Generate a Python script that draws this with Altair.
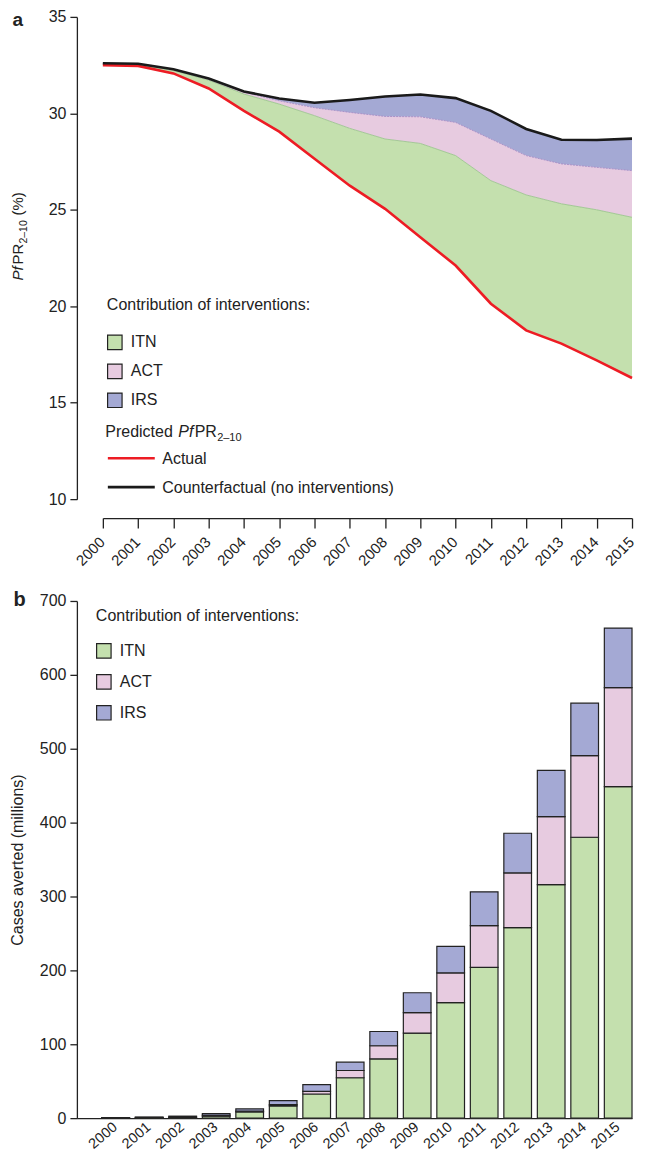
import altair as alt
import pandas as pd

years = list(range(2000, 2016))

# Panel a: predicted PfPR2-10 (%)
actual = [32.50, 32.46, 32.07, 31.29, 30.13, 29.05, 27.65, 26.25, 25.05, 23.58,
          22.11, 20.13, 18.75, 18.06, 17.19, 16.28]
itn_top = [32.55, 32.52, 32.22, 31.72, 31.00, 30.48, 29.88, 29.22, 28.67, 28.44,
           27.81, 26.51, 25.77, 25.31, 25.00, 24.61]
act_top = [32.58, 32.55, 32.27, 31.78, 31.10, 30.65, 30.29, 30.05, 29.84, 29.82,
           29.53, 28.67, 27.81, 27.38, 27.20, 27.03]
counterfactual = [32.60, 32.57, 32.29, 31.81, 31.13, 30.77, 30.55, 30.69, 30.87, 30.98,
                  30.79, 30.13, 29.19, 28.63, 28.62, 28.69]

# Panel b: cases averted (millions)
itn_cases = [0.4, 0.7, 1.0, 2.8, 8.5, 16.5, 32.7, 54.7, 80.2, 115.1,
             156.3, 204.2, 258.0, 316.2, 380.2, 448.7]
act_cases = [0.2, 0.3, 0.7, 1.3, 0.9, 1.9, 3.6, 9.8, 17.8, 27.7,
             40.3, 56.4, 73.9, 91.8, 110.6, 134.0]
irs_cases = [0.2, 0.5, 1.0, 2.2, 3.1, 5.4, 9.0, 11.2, 19.3, 26.9,
             35.8, 45.7, 53.7, 62.7, 70.8, 80.6]

interventions = ["ITN", "ACT", "IRS"]
fill_colors = ["#c4e0ae", "#e7cbe0", "#a4a9d4"]
series_names = ["Actual", "Counterfactual (no interventions)"]
series_colors = ["#ed1c24", "#1a1a1a"]

TXT = "#222222"

# ---------- tables ----------
band_rows = []
for i, yr in enumerate(years):
    band_rows.append({"year": yr, "band": "ITN", "lower": actual[i], "upper": itn_top[i]})
    band_rows.append({"year": yr, "band": "ACT", "lower": itn_top[i], "upper": act_top[i]})
    band_rows.append({"year": yr, "band": "IRS", "lower": act_top[i], "upper": counterfactual[i]})
df_bands = pd.DataFrame(band_rows)

line_rows = []
for i, yr in enumerate(years):
    line_rows.append({"year": yr, "series": series_names[0], "value": actual[i]})
    line_rows.append({"year": yr, "series": series_names[1], "value": counterfactual[i]})
df_lines = pd.DataFrame(line_rows)

bar_rows = []
for i, yr in enumerate(years):
    for k, (name, vals) in enumerate(zip(interventions, [itn_cases, act_cases, irs_cases])):
        bar_rows.append({"year": str(yr), "intervention": name, "value": vals[i], "order": k})
df_bars = pd.DataFrame(bar_rows)

one = pd.DataFrame({"k": [0]})


def txt(s, x, y, size=16, **kw):
    params = dict(text=s, fontSize=size, align="left", baseline="alphabetic", color=TXT)
    params.update(kw)
    return alt.Chart(one).mark_text(**params).encode(x=alt.value(x), y=alt.value(y))


def key_line(color, x1, x2, y):
    return alt.Chart(one).mark_rule(color=color, strokeWidth=2.6).encode(
        x=alt.value(x1), x2=alt.value(x2), y=alt.value(y))


# ---------- panel a ----------
xa_scale = alt.Scale(domain=[2000, 2015], range=[26, 556], nice=False, zero=False)
xa_axis = alt.Axis(values=years, format="d", labelAngle=-45, labelAlign="right",
                   labelBaseline="middle", labelPadding=11, labelOffset=-1,
                   labelFontSize=15, labelOverlap=False, labelBound=False,
                   tickSize=10, offset=19, title=None)
ya_scale = alt.Scale(domain=[10, 35], nice=False, zero=False)
ya_axis = alt.Axis(values=[10, 15, 20, 25, 30, 35], tickSize=7, labelPadding=4,
                   labelOverlap=False, title=None)


def xa(field):
    return alt.X(field, scale=xa_scale, axis=xa_axis)


def ya(field):
    return alt.Y(field, scale=ya_scale, axis=ya_axis)


area = alt.Chart(df_bands).mark_area(interpolate="linear").encode(
    x=xa("year:Q"),
    y=ya("lower:Q"),
    y2="upper:Q",
    fill=alt.Fill("band:N",
                  scale=alt.Scale(domain=interventions, range=fill_colors),
                  legend=alt.Legend(title="Contribution of interventions:", orient="none",
                                    legendX=30, legendY=281, symbolType="square",
                                    symbolSize=210, symbolStrokeColor="#222",
                                    symbolStrokeWidth=1.2, symbolOpacity=1,
                                    labelFontSize=16, titleFontSize=16,
                                    titleFontWeight="normal", titleLimit=400,
                                    titlePadding=21, rowPadding=9, labelOffset=8,
                                    labelColor=TXT, titleColor=TXT)),
)

itn_edge = alt.Chart(df_bands).transform_filter("datum.band == 'ITN'").mark_line(
    color="#93c285", strokeWidth=0.8).encode(x=xa("year:Q"), y=ya("upper:Q"))
act_edge = alt.Chart(df_bands).transform_filter("datum.band == 'ACT'").mark_line(
    color="#a98bc4", strokeWidth=0.9, strokeDash=[2, 1]).encode(x=xa("year:Q"), y=ya("upper:Q"))

lines = alt.Chart(df_lines).mark_line(strokeWidth=2.6).encode(
    x=xa("year:Q"),
    y=ya("value:Q"),
    stroke=alt.Stroke("series:N",
                      scale=alt.Scale(domain=series_names, range=series_colors),
                      legend=None),
)

ann_a = [
    txt("a", -64.5, 9.5, size=19, fontWeight="bold"),
    txt("Pf", -54, 264, size=15, angle=270, fontStyle="italic"),
    txt("PR", -54, 248, size=15, angle=270),
    txt("2\u201310", -50, 227, size=10.5, angle=270),
    txt("(%)", -54, 199, size=15, angle=270),
    txt("Predicted", 28.5, 420.5),
    txt("Pf", 101.5, 420.5, fontStyle="italic"),
    txt("PR", 118, 420.5),
    txt("2\u201310", 140.5, 424.5, size=11),
    key_line(series_colors[0], 31, 78, 442),
    txt(series_names[0], 85.5, 447.5),
    key_line(series_colors[1], 31, 78, 471),
    txt(series_names[1], 85.5, 476.5),
]

panel_a = alt.layer(area, itn_edge, act_edge, lines, *ann_a).properties(width=556, height=483)

# ---------- panel b ----------
bars = alt.Chart(df_bars).mark_bar(stroke="#222", strokeWidth=1.2).encode(
    x=alt.X("year:O",
            scale=alt.Scale(paddingInner=0.174, paddingOuter=0.3725, align=1),
            axis=alt.Axis(labelAngle=-40, labelAlign="right", labelBaseline="middle",
                          labelFontSize=14.5, ticks=False, tickSize=0, labelPadding=7,
                          labelOverlap=False, title=None)),
    y=alt.Y("value:Q", stack="zero",
            scale=alt.Scale(domain=[0, 700], nice=False),
            axis=alt.Axis(values=[0, 100, 200, 300, 400, 500, 600, 700], tickSize=7,
                          labelPadding=4, title="Cases averted (millions)",
                          titlePadding=14)),
    fill=alt.Fill("intervention:N",
                  scale=alt.Scale(domain=interventions, range=fill_colors),
                  legend=alt.Legend(title="Contribution of interventions:", orient="none",
                                    legendX=19, legendY=7, symbolType="square",
                                    symbolSize=210, symbolStrokeColor="#222",
                                    symbolStrokeWidth=1.2, symbolOpacity=1,
                                    labelFontSize=16, titleFontSize=16,
                                    titleFontWeight="normal", titleLimit=400,
                                    titlePadding=19, rowPadding=11, labelOffset=8,
                                    labelColor=TXT, titleColor=TXT)),
    order=alt.Order("order:Q", sort="ascending"),
)

ann_b = [txt("b", -63.5, 5, size=20, fontWeight="bold")]

panel_b = alt.layer(bars, *ann_b).properties(width=556, height=518)

chart = alt.vconcat(panel_a, panel_b, spacing=21).resolve_scale(
    fill="independent", x="independent", y="independent"
).resolve_legend(fill="independent").properties(
    padding={"left": 1, "top": 0, "right": 0, "bottom": 0}
).configure(font="Liberation Sans").configure_view(stroke=None).configure_axis(
    grid=False, domainColor="#222", tickColor="#222", labelColor=TXT, titleColor=TXT,
    labelFontSize=16, titleFontSize=16, domainWidth=1.3, tickWidth=1.3,
    labelOverlap=False, titleFontWeight="normal", labelFont="Liberation Sans",
    titleFont="Liberation Sans"
)

chart.save("out.html", embed_options={"renderer": "svg", "actions": False})
